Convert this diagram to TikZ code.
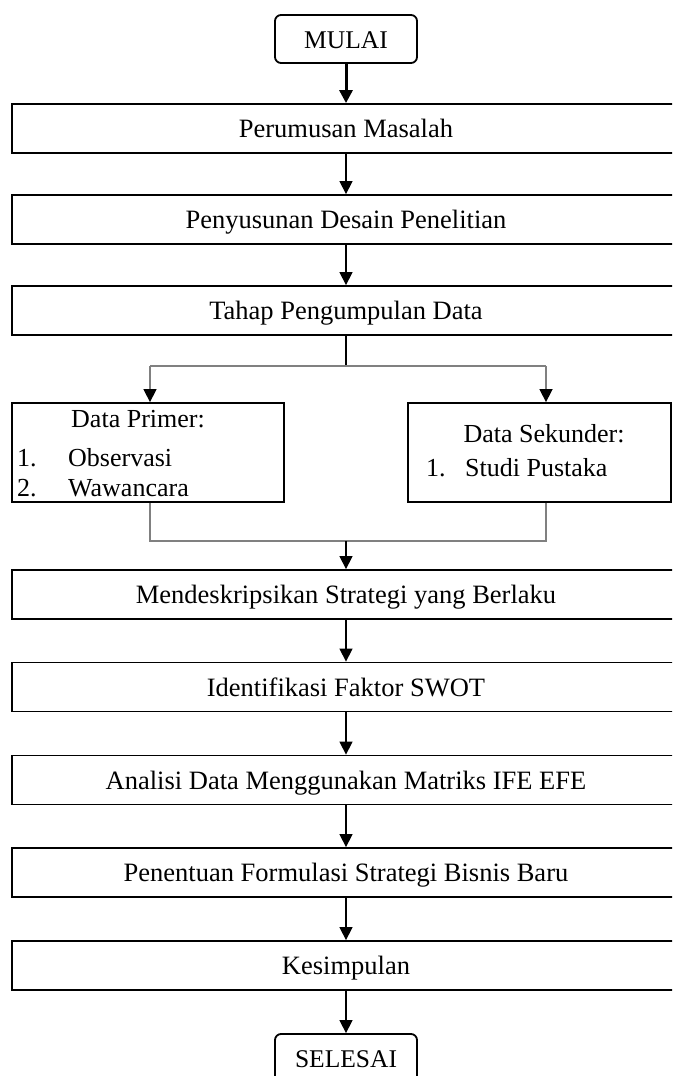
\documentclass[tikz,border=0pt]{standalone}
\usepackage{fontspec}
\setmainfont{Liberation Serif}
\usetikzlibrary{arrows.meta}

\begin{document}
\begin{tikzpicture}[x=1pt,y=-1pt,
  kotak/.style={draw, line width=1.8pt, minimum width=668pt, minimum height=49pt,
    inner sep=0pt, text height=18pt, text depth=0pt, font=\fontsize{26.5}{31}\selectfont},
  terminal/.style={kotak, rounded corners=6pt, minimum width=142pt, minimum height=48pt,
    font=\fontsize{25.5}{30}\selectfont},
  cabang/.style={draw, line width=1.8pt, minimum width=272pt, minimum height=99pt, inner sep=0pt},
  teks/.style={font=\fontsize{26}{31}\selectfont, inner sep=0pt, anchor=base west},
  panah/.style={line width=1.3pt, -{Triangle[width=13pt,length=13pt]}},
  garis/.style={line width=1.5pt, draw=gray}]
  \useasboundingbox (0,0) rectangle (672,1076);
  \clip (0,0) rectangle (672,1076);

  % Alur atas
  \node[terminal] (mulai) at (346,39) {MULAI};
  \node[kotak] (rumus) at (346,128.5) {Perumusan Masalah};
  \node[kotak] (desain) at (346,219.5) {Penyusunan Desain Penelitian};
  \node[kotak] (kumpul) at (346,310.5) {Tahap Pengumpulan Data};

  % Data primer dan sekunder
  \node[cabang] (primer) at (148,452.5) {};
  \node[cabang, minimum width=263pt] (sekunder) at (539.5,452.5) {};
  \node[teks, anchor=base] (judulp) at (138,427) {Data Primer:};
  \node[teks] (p1) at (17,466) {\makebox[51pt][l]{1.}Observasi};
  \node[teks] (p2) at (17,496) {\makebox[51pt][l]{2.}Wawancara};
  \node[teks, anchor=base] (judulk) at (544,442) {Data Sekunder:};
  \node[teks] (k1) at (426,476) {\makebox[39pt][l]{1.}Studi Pustaka};

  % Alur bawah
  \node[kotak] (deskripsi) at (346,594.5) {Mendeskripsikan Strategi yang Berlaku};
  \node[kotak] (swot) at (346,687) {Identifikasi Faktor SWOT};
  \node[kotak] (ife) at (346,780) {Analisi Data Menggunakan Matriks IFE EFE};
  \node[kotak] (formulasi) at (346,872.5) {Penentuan Formulasi Strategi Bisnis Baru};
  \node[kotak] (simpul) at (346,965.5) {Kesimpulan};
  \node[terminal] (selesai) at (346,1058) {SELESAI};

  % Titik cabang
  \coordinate (pisah) at (346,366);
  \coordinate (pisahkiri) at (150,366);
  \coordinate (pisahkanan) at (546,366);
  \coordinate (gabung) at (346,541);
  \coordinate (gabungkiri) at (150,541);
  \coordinate (gabungkanan) at (546,541);

  % Panah
  \draw[panah, line width=3pt] (mulai) -- (rumus);
  \draw[panah] (rumus) -- (desain);
  \draw[panah] (desain) -- (kumpul);
  \draw[line width=1.3pt] (kumpul) -- (pisah);
  \draw[garis] (pisahkiri) -- (pisahkanan);
  \draw[garis, -{Triangle[width=13pt,length=13pt,color=black]}] (pisahkiri) -- (pisahkiri |- primer.north);
  \draw[garis, -{Triangle[width=13pt,length=13pt,color=black]}] (pisahkanan) -- (pisahkanan |- sekunder.north);
  \draw[garis] (gabungkiri |- primer.south) -- (gabungkiri) -- (gabungkanan) -- (gabungkanan |- sekunder.south);
  \draw[panah] (gabung) -- (deskripsi);
  \draw[panah] (deskripsi) -- (swot);
  \draw[panah] (swot) -- (ife);
  \draw[panah] (ife) -- (formulasi);
  \draw[panah] (formulasi) -- (simpul);
  \draw[panah] (simpul) -- (selesai);
\end{tikzpicture}
\end{document}
